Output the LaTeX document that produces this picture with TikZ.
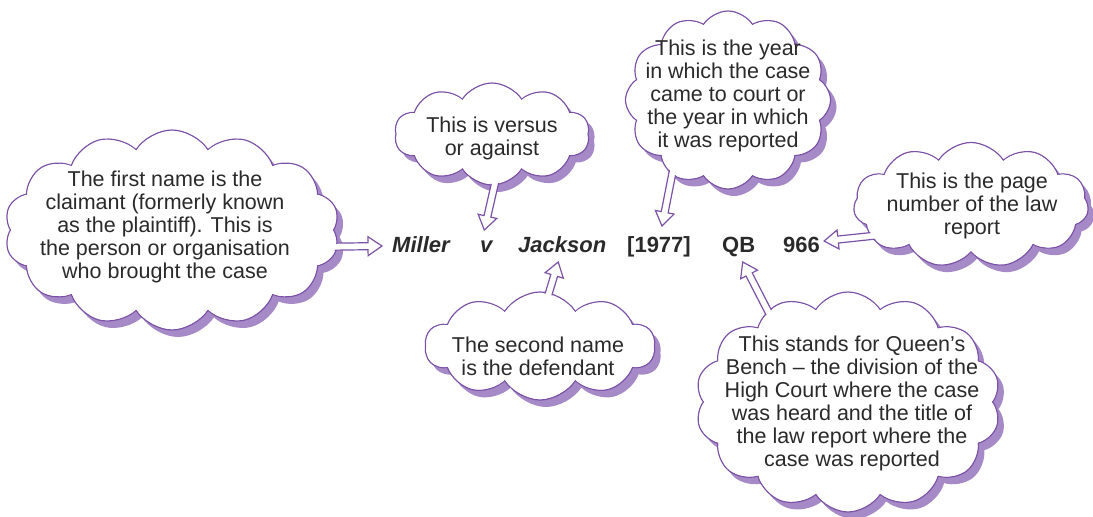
\documentclass[tikz,border=0pt]{standalone}
\usepackage{fontspec}
\setmainfont{Liberation Sans}
\usetikzlibrary{shapes.symbols,shadows,calc}
\definecolor{cloudline}{HTML}{7B52A6}
\definecolor{cloudshadow}{HTML}{A68AC8}
\definecolor{txt}{HTML}{2A2A2A}
\tikzset{
  cloudbase/.style={cloud, cloud puffs=#1, cloud puff arc=115, cloud ignores aspect, inner sep=0pt},
  thought/.style={cloudbase=#1, draw=cloudline, line width=1.2pt, fill=white,
    drop shadow={shadow xshift=6pt, shadow yshift=-7pt, fill=cloudshadow, opacity=1}},
  thoughtfill/.style={cloudbase=#1, fill=white, draw=none},
  note/.style={align=center, text=txt, font=\fontsize{21.5}{23}\selectfont, inner sep=0pt},
  cite/.style={text=txt, font=\fontsize{22}{24}\selectfont\bfseries, anchor=base west, inner sep=0pt},
  arrowline/.style={draw=cloudline, line width=1.2pt, line join=miter}
}
\newcommand\calloutarrow[2]{%
  \coordinate (#1-h) at ($(#2)!14pt!(#1)$);
  \coordinate (#1-p) at ($(#1)!3.5pt!90:(#2)$);
  \coordinate (#1-q) at ($(#1)!3.5pt!-90:(#2)$);
  \coordinate (#1-r) at ($(#1-h)!3.5pt!90:(#2)$);
  \coordinate (#1-s) at ($(#1-h)!3.5pt!-90:(#2)$);
  \coordinate (#1-u) at ($(#1-h)!9.5pt!90:(#2)$);
  \coordinate (#1-v) at ($(#1-h)!9.5pt!-90:(#2)$);
  \fill[white] (#1-p) -- (#1-r) -- (#1-u) -- (#2) -- (#1-v) -- (#1-s) -- (#1-q) -- cycle;
  \draw[arrowline] (#1-p) -- (#1-r) -- (#1-u) -- (#2) -- (#1-v) -- (#1-s) -- (#1-q);
}
\begin{document}
\begin{tikzpicture}[x=1pt,y=-1pt]
\useasboundingbox (0,0) rectangle (1093,517);

% clouds
\node[thought=14, minimum width=335pt, minimum height=200pt] (c1) at (172,230) {};
\node[thought=10, minimum width=195pt, minimum height=102pt] (c2) at (492,134) {};
\node[thought=12, minimum width=205pt, minimum height=178pt] (c3) at (728,100) {};
\node[thought=11, minimum width=235pt, minimum height=125pt] (c4) at (971,205) {};
\node[thought=10, minimum width=230pt, minimum height=108pt] (c5) at (540,346) {};
\node[thought=14, minimum width=305pt, minimum height=220pt] (c6) at (848,402) {};

% citation
\node[cite] (miller)  at (392,252) {\itshape Miller};
\node[cite] (vs)      at (480,252) {\itshape v};
\node[cite] (jackson) at (518,252) {\itshape Jackson};
\node[cite] (yr)      at (627,252) {[1977]};
\node[cite] (qb)      at (722,252) {QB};
\node[cite] (pg)      at (783,252) {966};

% arrow ends
\coordinate (b1) at ($(c1.center)+(140,17)$);
\coordinate (t1) at ($(miller.base west)+(-10,-6)$);
\coordinate (b2) at ($(c2.center)+(6,36)$);
\coordinate (t2) at ($(vs.base)+(-2,-22)$);
\coordinate (b3) at ($(c3.center)+(-55,70)$);
\coordinate (t3) at ($(yr.base west)+(35,-26)$);
\coordinate (b4) at ($(c4.center)+(-90,30)$);
\coordinate (t4) at ($(pg.base east)+(4,-11)$);
\coordinate (b5) at ($(c5.center)+(2,-30)$);
\coordinate (t5) at ($(jackson.base)+(-4,10)$);
\coordinate (b6) at ($(c6.center)+(-77,-85)$);
\coordinate (t6) at ($(qb.base)+(4,10)$);

\calloutarrow{b1}{t1}
\calloutarrow{b2}{t2}
\calloutarrow{b3}{t3}
\calloutarrow{b4}{t4}
\calloutarrow{b5}{t5}
\calloutarrow{b6}{t6}

% cloud interiors drawn again, hiding the arrow ends inside the clouds
\node[thoughtfill=14, minimum width=332.6pt, minimum height=197.6pt] (c1f) at (c1.center) {};
\node[thoughtfill=10, minimum width=192.6pt, minimum height=99.6pt] (c2f) at (c2.center) {};
\node[thoughtfill=12, minimum width=202.6pt, minimum height=175.6pt] (c3f) at (c3.center) {};
\node[thoughtfill=11, minimum width=232.6pt, minimum height=122.6pt] (c4f) at (c4.center) {};
\node[thoughtfill=10, minimum width=227.6pt, minimum height=105.6pt] (c5f) at (c5.center) {};
\node[thoughtfill=14, minimum width=302.6pt, minimum height=217.6pt] (c6f) at (c6.center) {};

% texts
\node[note] (n1) at (165,227) {The first name is the\\claimant (formerly known\\as the plaintiff). This is\\the person or organisation\\who brought the case};
\node[note] (n2) at (492,138) {This is versus\\or against};
\node[note] (n3) at (728,96) {This is the year\\in which the case\\came to court or\\the year in which\\it was reported};
\node[note] (n4) at (972,206) {This is the page\\number of the law\\report};
\node[note] (n5) at (538,356) {The second name\\is the defendant};
\node[note] (n6) at (852,403) {This stands for Queen’s\\Bench – the division of the\\High Court where the case\\was heard and the title of\\the law report where the\\case was reported};
\end{tikzpicture}
\end{document}
